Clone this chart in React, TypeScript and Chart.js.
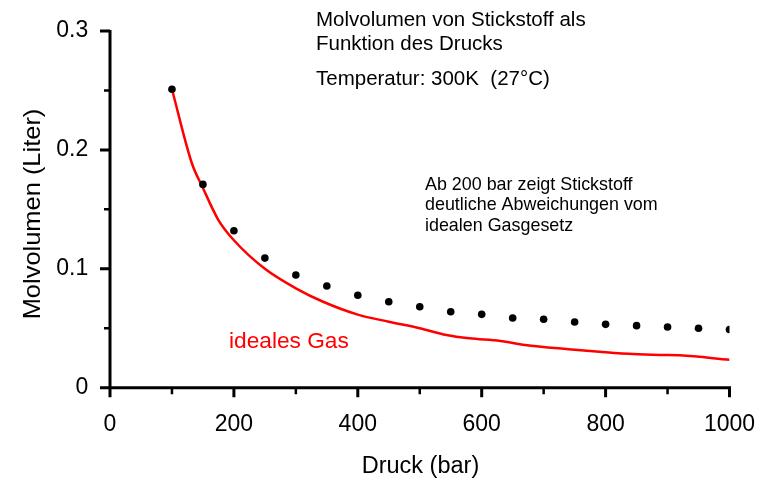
import React, { useEffect, useRef } from "react";
import { Chart, registerables } from "chart.js";

Chart.register(...registerables);

// ---- data ----
const nitrogenPressure = [100, 150, 200, 250, 300, 350, 400, 450, 500, 550, 600, 650, 700, 750, 800, 850, 900, 950, 1000];
const nitrogenVolume = [0.251, 0.171, 0.132, 0.109, 0.0948, 0.0855, 0.0777, 0.0723, 0.0681, 0.0639, 0.0617, 0.0586, 0.0576, 0.0553, 0.0533, 0.0522, 0.0511, 0.05, 0.0489];

const idealPressure = [100, 132, 150, 175, 200, 250, 300, 344, 400, 450, 500, 543, 580, 630, 670, 740, 790, 845, 890, 920, 1000];
const idealVolume = [0.251, 0.189, 0.168, 0.141, 0.124, 0.1, 0.0836, 0.0723, 0.0615, 0.0555, 0.05, 0.0443, 0.0415, 0.0393, 0.0359, 0.0324, 0.0303, 0.0283, 0.0275, 0.0272, 0.0235];

const xMajorTicks = [0, 200, 400, 600, 800, 1000];
const xMinorTicks = [100, 300, 500, 700, 900];
const yMajorTicks = [0, 0.1, 0.2, 0.3];
const yMinorTicks = [0.05, 0.15, 0.25];

const xTitle = "Druck (bar)";
const yTitle = "Molvolumen (Liter)";
const headerLines = ["Molvolumen von Stickstoff als", "Funktion des Drucks"];
const temperatureLine = "Temperatur: 300K  (27°C)";
const noteLines = ["Ab 200 bar zeigt Stickstoff", "deutliche Abweichungen vom", "idealen Gasgesetz"];
const idealLabel = "ideales Gas";

const FONT = '"Liberation Sans", Arial, Helvetica, sans-serif';
const TARGET = { left: 110, top: 31, right: 729.5, bottom: 387.7 };

function drawText(ctx: CanvasRenderingContext2D, text: string, x: number, y: number, size: number, color: string, align: CanvasTextAlign = "left", stretch = 1, rotate = 0) {
  ctx.save();
  ctx.translate(x, y);
  if (rotate) ctx.rotate(rotate);
  ctx.scale(stretch, 1);
  ctx.font = `${size}px ${FONT}`;
  ctx.fillStyle = color;
  ctx.textAlign = align;
  ctx.textBaseline = "alphabetic";
  ctx.fillText(text, 0, 0);
  ctx.restore();
}

const overlay = {
  id: "overlay",
  afterDraw(chart: any) {
    const ctx: CanvasRenderingContext2D = chart.ctx;
    const xs = chart.scales.x;
    const ys = chart.scales.y;
    const ax = xs.getPixelForValue(0);
    const ay = ys.getPixelForValue(0);
    ctx.save();
    ctx.strokeStyle = "#000";
    ctx.lineCap = "butt";
    ctx.lineWidth = 3;
    ctx.beginPath();
    ctx.moveTo(ax, ys.getPixelForValue(0.3) - 1);
    ctx.lineTo(ax, ay + 1.5);
    ctx.moveTo(ax - 1.5, ay);
    ctx.lineTo(xs.getPixelForValue(1000) + 1.5, ay);
    ctx.stroke();
    // major ticks
    ctx.lineWidth = 3;
    ctx.beginPath();
    yMajorTicks.forEach((v) => {
      const py = ys.getPixelForValue(v);
      ctx.moveTo(ax - 10, py);
      ctx.lineTo(ax, py);
    });
    xMajorTicks.forEach((v) => {
      const px = xs.getPixelForValue(v);
      ctx.moveTo(px, ay);
      ctx.lineTo(px, ay + 9.5);
    });
    ctx.stroke();
    // minor ticks
    ctx.lineWidth = 2.5;
    ctx.beginPath();
    yMinorTicks.forEach((v) => {
      const py = ys.getPixelForValue(v);
      ctx.moveTo(ax - 6, py);
      ctx.lineTo(ax, py);
    });
    xMinorTicks.forEach((v) => {
      const px = xs.getPixelForValue(v);
      ctx.moveTo(px, ay);
      ctx.lineTo(px, ay + 6.5);
    });
    ctx.stroke();
    ctx.restore();

    // titles
    drawText(ctx, xTitle, (xs.left + xs.right) / 2 + 0.7, 473.3, 23.5, "#000", "center");
    drawText(ctx, yTitle, 40, 214, 24, "#000", "center", 1.06, -Math.PI / 2);

    // annotations
    drawText(ctx, headerLines[0], 316, 26, 20.5, "#000");
    drawText(ctx, headerLines[1], 316, 49.5, 20.5, "#000");
    drawText(ctx, temperatureLine, 316, 84.5, 20.5, "#000");
    noteLines.forEach((t, i) => drawText(ctx, t, 425, 189.5 + i * 20.7, 17.9, "#000"));
    drawText(ctx, idealLabel, 229, 347.5, 22.7, "#ff0000");
  },
};

export default function App() {
  const canvasRef = useRef<HTMLCanvasElement | null>(null);

  useEffect(() => {
    const canvas = canvasRef.current;
    if (!canvas) return;
    const chart = new Chart(canvas, {
      type: "scatter",
      data: {
        datasets: [
          {
            label: "Stickstoff",
            data: nitrogenPressure.map((p, i) => ({ x: p, y: nitrogenVolume[i] })),
            showLine: false,
            pointRadius: 3.8,
            pointBackgroundColor: "#000",
            pointBorderWidth: 0,
            pointBorderColor: "#000",
          },
          {
            label: "ideales Gas",
            data: idealPressure.map((p, i) => ({ x: p, y: idealVolume[i] })),
            showLine: true,
            borderColor: "#ff0000",
            borderWidth: 2.5,
            pointRadius: 0,
            tension: 0.25,
            cubicInterpolationMode: "monotone",
            fill: false,
          },
        ],
      },
      options: {
        responsive: false,
        animation: false,
        devicePixelRatio: 1,
        layout: { padding: { left: 0, top: TARGET.top, right: 779 - TARGET.right, bottom: 0 } },
        plugins: { legend: { display: false }, tooltip: { enabled: false }, title: { display: false } },
        scales: {
          x: {
            type: "linear",
            min: 0,
            max: 1000,
            grid: { display: false, drawTicks: false },
            border: { display: false },
            ticks: {
              stepSize: 200,
              color: "#000",
              padding: 23,
              maxRotation: 0,
              font: { family: FONT, size: 23 },
              callback: (v: any) => String(Math.round(Number(v))),
            },
            afterFit: (scale: any) => {
              scale.height = 483 - TARGET.bottom;
              scale.paddingLeft = 0;
              scale.paddingRight = 0;
            },
          },
          y: {
            type: "linear",
            min: 0,
            max: 0.3,
            grid: { display: false, drawTicks: false },
            border: { display: false },
            ticks: {
              stepSize: 0.1,
              color: "#000",
              padding: 21.7,
              font: { family: FONT, size: 23 },
              callback: (v: any) => (Math.abs(v) < 1e-9 ? "0" : Number(v).toFixed(1)),
            },
            afterFit: (scale: any) => {
              scale.width = TARGET.left;
              scale.paddingTop = 0;
              scale.paddingBottom = 0;
            },
          },
        },
      },
      plugins: [overlay],
    });
    return () => chart.destroy();
  }, []);

  return (
    <div style={{ position: "absolute", left: 0, top: 0, width: 779, height: 483, background: "#fff" }}>
      <canvas ref={canvasRef} width={779} height={483} style={{ display: "block", width: 779, height: 483 }} />
    </div>
  );
}
